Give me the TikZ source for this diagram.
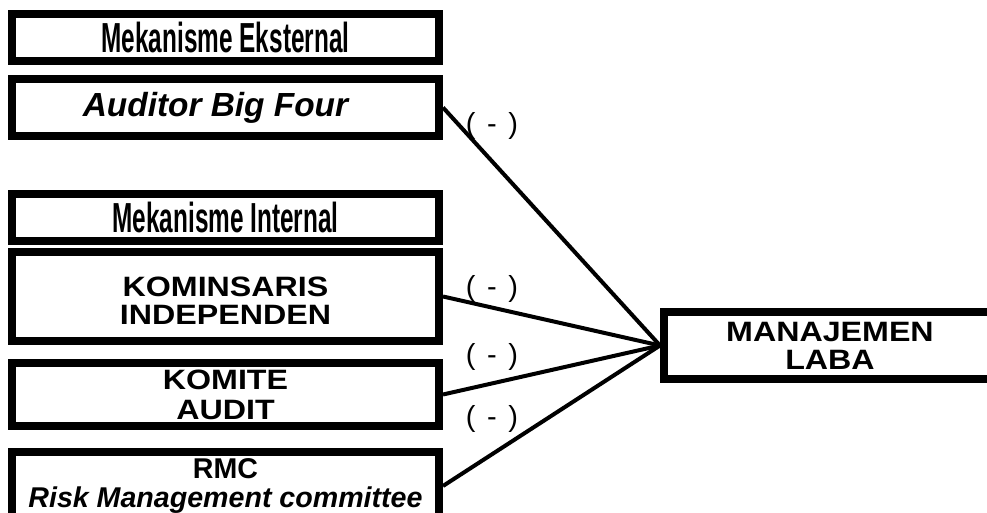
\documentclass[tikz,border=0pt]{standalone}
\usepackage{fontspec}
\setmainfont{Liberation Sans}
\newfontfamily\narrowfont[FakeStretch=0.58]{Liberation Sans}
\newfontfamily\widefont[FakeStretch=1.15]{Liberation Sans}

\tikzset{
    box/.style={draw, line width=4pt, minimum width=213.5pt, inner sep=0pt, align=center},
    headbox/.style={box, minimum height=23.5pt, font=\narrowfont\bfseries\fontsize{21}{21}\selectfont},
    capsbox/.style={box, font=\widefont\bfseries\fontsize{14}{14}\selectfont},
    link/.style={line width=2pt},
    sign/.style={font=\fontsize{14.5}{14.5}\selectfont},
}

\begin{document}
\begin{tikzpicture}[x=0.5pt,y=-0.5pt]
    \useasboundingbox (0,0) rectangle (987,513);

    % External mechanism
    \node[headbox] (ext) at (225.5,37.5) {Mekanisme Eksternal};
    \node[box, minimum height=28.5pt, font=\bfseries\itshape\fontsize{16.7}{18}\selectfont] (big4) at (225.5,107.5) {Auditor Big Four\hspace*{10pt}};

    % Internal mechanism
    \node[headbox] (int) at (225.5,217.5) {Mekanisme Internal};
    \node[capsbox, minimum height=44.5pt, text height=28pt] (kom) at (225.5,296.5) {KOMINSARIS\\INDEPENDEN};
    \node[capsbox, minimum height=31.5pt, font=\widefont\bfseries\fontsize{14}{15}\selectfont] (audit) at (225.5,394.5) {KOMITE\\AUDIT};
    \node[box, minimum height=33.5pt, font=\bfseries\fontsize{14.3}{14.3}\selectfont] (rmc) at (225.5,486) {RMC\\\itshape Risk Management committee};

    % Dependent variable
    \node[capsbox, minimum width=166pt, minimum height=33.5pt] (laba) at (830,345.5) {MANAJEMEN\\LABA};

    % Draw links to dependent variable
    \draw[link] (big4.east) -- (laba.west);
    \draw[link] (kom.east) -- (laba.west);
    \draw[link] (audit.east) -- (laba.west);
    \draw[link] (rmc.east) -- (laba.west);

    % Add sign labels
    \node[sign] (s1) at (492,126) {(\hspace{0.4em}-\hspace{0.4em})};
    \node[sign] (s2) at (492,289) {(\hspace{0.4em}-\hspace{0.4em})};
    \node[sign] (s3) at (492,357) {(\hspace{0.4em}-\hspace{0.4em})};
    \node[sign] (s4) at (492,419) {(\hspace{0.4em}-\hspace{0.4em})};

\end{tikzpicture}
\end{document}
